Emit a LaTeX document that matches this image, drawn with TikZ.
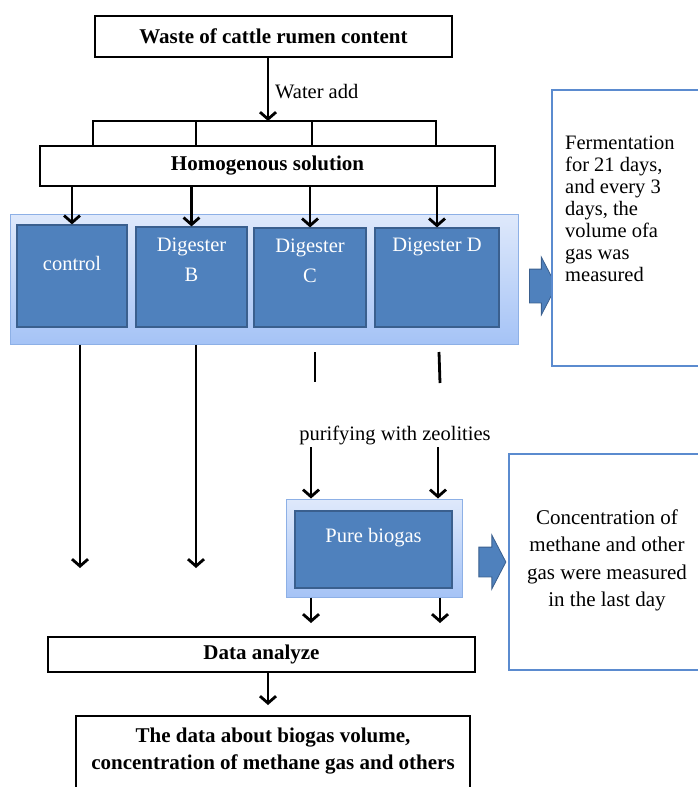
\documentclass[tikz,border=0pt]{standalone}
\usepackage{fontspec}
\setmainfont{Liberation Serif}
\usetikzlibrary{arrows.meta,shapes.arrows}

\definecolor{tankblue}{HTML}{4F81BD}
\definecolor{tankedge}{HTML}{3A5F8E}
\definecolor{traytop}{HTML}{DFE9FB}
\definecolor{traybottom}{HTML}{A5C3F6}
\definecolor{trayedge}{HTML}{8DB0E6}
\definecolor{noteedge}{HTML}{5B8BCF}

\begin{document}
\begin{tikzpicture}[x=1pt,y=-1pt,
    txt/.style={inner sep=0pt, font=\fontsize{20.5}{22}\selectfont},
    whitebox/.style={draw=black, line width=2pt, fill=white, inner sep=0pt},
    boldtxt/.style={inner sep=0pt, align=center, font=\fontsize{21}{27}\selectfont\bfseries},
    tray/.style={draw=trayedge, line width=1pt, top color=traytop, bottom color=traybottom, inner sep=0pt},
    tank/.style={draw=tankedge, line width=1.2pt, fill=tankblue, inner sep=0pt},
    tanktxt/.style={text=white, align=center, inner sep=0pt, font=\fontsize{20.5}{30}\selectfont},
    notebox/.style={draw=noteedge, line width=1.4pt, fill=white, inner sep=0pt},
    pointer/.style={single arrow, draw=tankedge, fill=tankblue, line width=0.8pt, inner xsep=0pt,
        minimum height=27pt, single arrow head extend=12pt, single arrow tip angle=125},
    link/.style={line width=2.8pt},
    arr/.style={line width=2.8pt, -{Straight Barb[length=7pt,width=16pt]}}]
    \useasboundingbox (0,0) rectangle (697,787);

    % top of the flow
    \node[whitebox, minimum width=357pt, minimum height=41pt] (waste) at (273.5,36.5) {};
    \node[boldtxt] (waste-t) at (273.5,36.5) {Waste of cattle rumen content};
    \node[whitebox, minimum width=455pt, minimum height=40pt] (homog) at (267.5,166) {};
    \node[boldtxt] (homog-t) at (267.5,166) {Homogenous solution};
    \coordinate (split) at (268,121);
    \draw[arr] (waste.south -| split) -- (split);
    \node[txt, anchor=west] (water) at (275,92) {Water add};
    \coordinate (b1) at (93,121);
    \coordinate (b2) at (196,121);
    \coordinate (b3) at (312,121);
    \coordinate (b4) at (436,121);
    \draw[link] (b1 |- homog.north) -- (b1) -- (b4) -- (b4 |- homog.north);
    \draw[link] (b2) -- (b2 |- homog.north);
    \draw[link] (b3) -- (b3 |- homog.north);

    % digesters
    \node[tray, minimum width=508pt, minimum height=130pt] (tray) at (264,279) {};
    \node[tank, minimum width=110pt, minimum height=102pt] (ctrl) at (72,276) {};
    \node[tank, minimum width=111pt, minimum height=100pt] (digb) at (191.5,277) {};
    \node[tank, minimum width=112pt, minimum height=99pt] (digc) at (310,277.5) {};
    \node[tank, minimum width=124pt, minimum height=99pt] (digd) at (437,277.5) {};
    \node[tanktxt] (ctrl-t) at (72,263) {control};
    \node[tanktxt] (digb-t) at (191.5,260) {Digester\\B};
    \node[tanktxt] (digc-t) at (310,261) {Digester\\C};
    \node[tanktxt] (digd-t) at (437,247) {Digester D};
    \foreach \t in {ctrl,digb,digc,digd}
        \draw[arr] (homog.south -| \t.north) -- (\t.north);

    % fermentation note
    \node[pointer, inner ysep=16.5pt] (ptr1) at (538.5,286) {};
    \node[notebox, minimum width=153pt, minimum height=276pt] (ferm) at (628.5,228) {};
    \node[txt, align=left, anchor=north west] (ferm-t) at (565,136) {Fermentation\\for 21 days,\\and every 3\\days, the\\volume ofa\\gas was\\measured};

    % going down
    \coordinate (endA) at (80,568);
    \coordinate (endB) at (196,568);
    \draw[arr] (tray.south -| endA) -- (endA);
    \draw[arr] (tray.south -| endB) -- (endB);
    \coordinate (cTop) at (315,352);
    \coordinate (cBot) at (315,382);
    \coordinate (dTop) at (439,352);
    \coordinate (dBot) at (440,383);
    \draw[link] (cTop) -- (cBot);
    \draw[link] (dTop) -- (dBot);
    \node[txt] (purify) at (395,435) {purifying with zeolities};

    % pure biogas
    \node[tray, minimum width=176pt, minimum height=98pt] (outer) at (374,548) {};
    \node[tank, minimum width=157pt, minimum height=77pt] (pure) at (373.5,549.5) {};
    \node[tanktxt] (pure-t) at (373.5,538) {Pure biogas};
    \coordinate (colC) at (311,447);
    \coordinate (colD) at (438,447);
    \draw[arr] (colC) -- (colC |- outer.north);
    \draw[arr] (colD) -- (colD |- outer.north);
    \node[pointer, inner ysep=14.5pt] (ptr2) at (488.5,562) {};
    \node[notebox, minimum width=196pt, minimum height=216pt] (conc) at (607,562) {};
    \node[inner sep=0pt, align=center, font=\fontsize{21}{27.5}\selectfont] (conc-t) at (607,560.5) {Concentration of\\methane and other\\gas were measured\\in the last day};

    % analysis
    \node[whitebox, minimum width=427pt, minimum height=35pt] (data) at (261.5,654.5) {};
    \node[boldtxt] (data-t) at (261.5,654.5) {Data analyze};
    \coordinate (outC) at (311,623);
    \coordinate (outD) at (440,623);
    \draw[arr] (outer.south -| outC) -- (outC);
    \draw[arr] (outer.south -| outD) -- (outD);
    \node[whitebox, minimum width=394pt, minimum height=84pt] (result) at (273,758) {};
    \node[boldtxt] (result-t) at (273,751) {The data about biogas volume,\\concentration of methane gas and others};
    \coordinate (resIn) at (268,705);
    \draw[arr] (data.south -| resIn) -- (resIn);
\end{tikzpicture}
\end{document}
